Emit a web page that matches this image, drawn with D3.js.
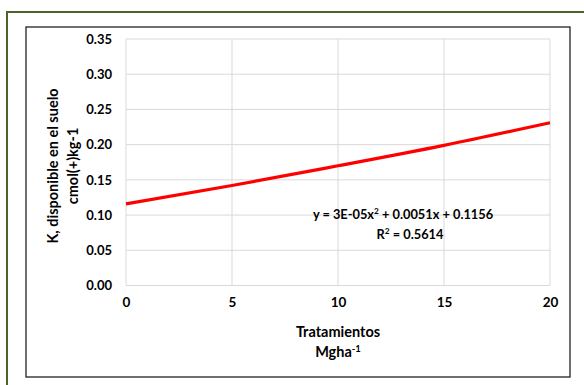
<!DOCTYPE html>
<html>
<head>
<meta charset="utf-8">
<script src="https://cdn.jsdelivr.net/npm/d3@7"></script>
<style>
  html, body { margin: 0; padding: 0; background: #fff; }
  svg { display: block; }
  text { font-family: Lato, "Open Sans", sans-serif; font-weight: bold; fill: #000; }
</style>
</head>
<body>
<svg id="chart" width="584" height="385"></svg>
<script>
// Treatment doses (Mg ha-1) and fitted K values along the trend line
const doses = [0, 5, 10, 15, 20];
const kValues = [0.116, 0.142, 0.170, 0.199, 0.231];

// Axis ticks
const xTicks = [0, 5, 10, 15, 20];
const yTicks = [0, 0.05, 0.10, 0.15, 0.20, 0.25, 0.30, 0.35];

// Trend-line annotation
const equationText = ["y = 3E-05x", "2", " + 0.0051x + 0.1156"];
const r2Text = ["R", "2", " = 0.5614"];

const svg = d3.select("#chart");

// Outer frame (green) and chart frame (black)
svg.append("path")
  .attr("d", "M7,385 V12 H584")
  .attr("fill", "none").attr("stroke", "#4f6228").attr("stroke-width", 2);
svg.append("rect")
  .attr("x", 26).attr("y", 27).attr("width", 544).attr("height", 350)
  .attr("fill", "#fff").attr("stroke", "#222").attr("stroke-width", 1.3);

const plot = { left: 126, top: 39, right: 550, bottom: 285.5 };

const x = d3.scaleLinear().domain([0, 20]).range([plot.left, plot.right]);
const y = d3.scaleLinear().domain([0, 0.35]).range([plot.bottom, plot.top]);

// Grid
const grid = svg.append("g");
grid.selectAll("line.h").data(yTicks).join("line")
  .attr("x1", plot.left).attr("x2", plot.right)
  .attr("y1", d => y(d)).attr("y2", d => y(d))
  .attr("stroke", "#d9d9d9").attr("stroke-width", 1);
grid.selectAll("line.v").data(xTicks).join("line")
  .attr("y1", plot.top).attr("y2", plot.bottom)
  .attr("x1", d => x(d)).attr("x2", d => x(d))
  .attr("stroke", "#d9d9d9").attr("stroke-width", 1);

// Axes (labels only)
const yAxis = svg.append("g")
  .attr("transform", `translate(${plot.left},0)`)
  .call(d3.axisLeft(y).tickValues(yTicks).tickFormat(d3.format(".2f")).tickSize(0).tickPadding(14));
yAxis.select(".domain").remove();
yAxis.selectAll("text").attr("font-size", 13).style("font-family", "Lato, sans-serif").style("font-weight", "bold").attr("fill", "#000");

const xAxis = svg.append("g")
  .attr("transform", `translate(0,${plot.bottom})`)
  .call(d3.axisBottom(x).tickValues(xTicks).tickFormat(d3.format("d")).tickSize(0).tickPadding(12));
xAxis.select(".domain").remove();
xAxis.selectAll("text").attr("font-size", 13.5).style("font-family", "Lato, sans-serif").style("font-weight", "bold").attr("fill", "#000");

// Trend line
const line = d3.line().x((d, i) => x(doses[i])).y(d => y(d)).curve(d3.curveNatural);
svg.append("path")
  .datum(kValues)
  .attr("d", line)
  .attr("fill", "none").attr("stroke", "#ff0000").attr("stroke-width", 3.2);

// Equation and R²
function supText(parent, parts, cx, cy, size) {
  const t = parent.append("text")
    .attr("x", cx).attr("y", cy).attr("text-anchor", "middle")
    .attr("font-size", size);
  t.append("tspan").text(parts[0]);
  t.append("tspan").attr("font-size", size * 0.65).attr("dy", -5).text(parts[1]);
  t.append("tspan").attr("dy", 5).text(parts[2]);
  return t;
}
supText(svg, equationText, 403, 219, 12.8);
supText(svg, r2Text, 410, 239, 12.8);

// Y-axis title
svg.append("text")
  .attr("transform", "translate(58,166) rotate(-90)")
  .attr("text-anchor", "middle").attr("font-size", 14.5)
  .text("K, disponible en el suelo");
svg.append("text")
  .attr("transform", "translate(78,166) rotate(-90)")
  .attr("text-anchor", "middle").attr("font-size", 14.5)
  .text("cmol(+)kg-1");

// X-axis title
svg.append("text")
  .attr("x", 338).attr("y", 337).attr("text-anchor", "middle").attr("font-size", 14.5)
  .text("Tratamientos");
const unit = svg.append("text")
  .attr("x", 338).attr("y", 357).attr("text-anchor", "middle").attr("font-size", 14.5);
unit.append("tspan").text("Mgha");
unit.append("tspan").attr("font-size", 9.5).attr("dy", -5).text("-1");
</script>
</body>
</html>
